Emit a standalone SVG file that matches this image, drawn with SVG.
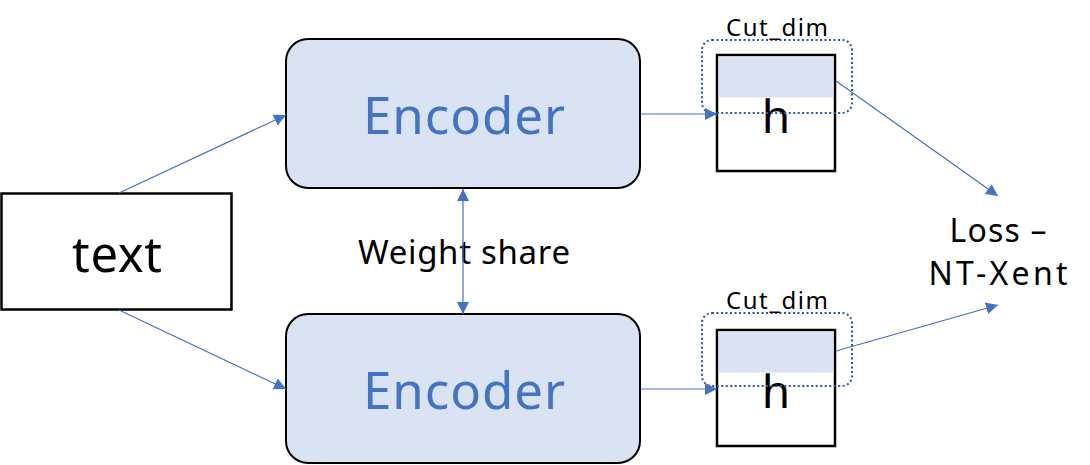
<svg xmlns="http://www.w3.org/2000/svg" width="1090" height="465" viewBox="0 0 1090 465">
<defs>
<style>
.box{fill:#fff;stroke:#000;stroke-width:2.5}
.enc{fill:#DAE3F3;stroke:#000;stroke-width:2}
.band{fill:#DAE3F3;stroke:none}
.cut{fill:none;stroke:#2F5597;stroke-width:2;stroke-dasharray:2 2.5}
.conn{stroke:#4472C4;stroke-width:1.2;fill:none}
.t{font-family:"Noto Sans","Open Sans","Liberation Sans",sans-serif;text-anchor:middle;fill:#000}
.et{font-family:"Noto Sans","Open Sans","Liberation Sans",sans-serif;text-anchor:middle;fill:#4472C4;font-size:51px}
</style>
<marker id="ah" viewBox="0 0 10 10" refX="10" refY="5" markerWidth="12" markerHeight="12" markerUnits="userSpaceOnUse" orient="auto-start-reverse">
<path d="M0,0 L10,5 L0,10 z" fill="#4472C4"/>
</marker>
</defs>
<g id="text-node">
<rect class="box" x="1.5" y="193.5" width="230" height="116"/>
<text class="t" x="117" y="272" font-size="49" textLength="90" lengthAdjust="spacing">text</text>
</g>
<g id="encoder-top">
<rect class="enc" x="286" y="39" width="354" height="149" rx="22"/>
<text class="et" x="464" y="134" textLength="202" lengthAdjust="spacing">Encoder</text>
</g>
<g id="encoder-bottom">
<rect class="enc" x="286" y="314" width="354" height="149" rx="22"/>
<text class="et" x="464" y="409" textLength="202" lengthAdjust="spacing">Encoder</text>
</g>
<g id="h-top">
<rect class="box" x="717" y="55" width="118" height="116"/>
<rect class="band" x="718.5" y="56.5" width="115" height="41"/>
<text class="t" x="776" y="133" font-size="46">h</text>
</g>
<g id="h-bottom">
<rect class="box" x="717" y="330" width="118" height="116"/>
<rect class="band" x="718.5" y="331.5" width="115" height="41"/>
<text class="t" x="776" y="408" font-size="46">h</text>
</g>
<g id="cut-top">
<rect class="cut" x="702" y="40" width="150" height="73" rx="10"/>
<text class="t" x="777" y="36" font-size="24" textLength="102" lengthAdjust="spacing">Cut_dim</text>
</g>
<g id="cut-bottom">
<rect class="cut" x="702" y="313" width="150" height="73" rx="10"/>
<text class="t" x="777" y="309" font-size="24" textLength="102" lengthAdjust="spacing">Cut_dim</text>
</g>
<g id="loss">
<text class="t" x="998" y="242" font-size="32" textLength="97" lengthAdjust="spacing">Loss –</text>
<text class="t" x="998" y="285" font-size="32" textLength="139" lengthAdjust="spacing">NT-Xent</text>
</g>
<g id="weight-share">
<text class="t" x="464" y="264" font-size="33" textLength="212" lengthAdjust="spacing">Weight share</text>
</g>
<g id="connectors">
<line class="conn" x1="119" y1="193" x2="286" y2="115" marker-end="url(#ah)"/>
<line class="conn" x1="119" y1="310" x2="286" y2="389" marker-end="url(#ah)"/>
<line class="conn" x1="641" y1="114" x2="717" y2="114" marker-end="url(#ah)"/>
<line class="conn" x1="641" y1="389" x2="717" y2="389" marker-end="url(#ah)"/>
<line class="conn" x1="836" y1="81" x2="998" y2="196" marker-end="url(#ah)"/>
<line class="conn" x1="836" y1="351" x2="998" y2="305" marker-end="url(#ah)"/>
<line class="conn" x1="463" y1="189" x2="463" y2="314" marker-start="url(#ah)" marker-end="url(#ah)"/>
</g>
</svg>
